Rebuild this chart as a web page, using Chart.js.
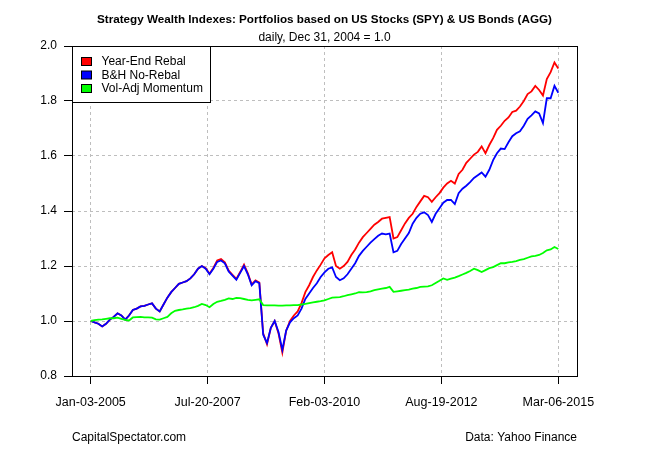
<!DOCTYPE html>
<html>
<head>
<meta charset="utf-8">
<script src="https://cdn.jsdelivr.net/npm/chart.js@4.4.1/dist/chart.umd.min.js"></script>
<style>
  body { margin: 0; background: #fff; }
  canvas { display: block; }
</style>
</head>
<body>
<canvas id="mycanvas" width="650" height="450"></canvas>
<script>
// x axis: months since Jan 2005 (0 = Jan-03-2005, 122 = Mar-06-2015)
var tickMonths = [0, 30.5, 61, 91.5, 122];
var tickLabels = ['Jan-03-2005', 'Jul-20-2007', 'Feb-03-2010', 'Aug-19-2012', 'Mar-06-2015'];
var yTicks = [0.8, 1.0, 1.2, 1.4, 1.6, 1.8, 2.0];

var seriesNames = ['Year-End Rebal', 'B&H No-Rebal', 'Vol-Adj Momentum'];
var seriesColors = ['#ff0000', '#0000ff', '#00ff00'];

// monthly readings, Jan 2005 .. Mar 2015
var yearEndRebal = [
  1.000, 0.995, 0.990, 0.980, 0.990, 1.005, 1.015, 1.028, 1.020, 1.005,
  1.020, 1.040, 1.045, 1.053, 1.055, 1.060, 1.064, 1.045, 1.035, 1.060,
  1.085, 1.105, 1.120, 1.135, 1.140, 1.145, 1.155, 1.170, 1.190, 1.200,
  1.192, 1.172, 1.193, 1.220, 1.225, 1.213, 1.183, 1.168, 1.153, 1.178,
  1.205, 1.173, 1.133, 1.148, 1.140, 0.955, 0.915, 0.975, 1.000, 0.955,
  0.885, 0.965, 1.000, 1.020, 1.035, 1.065, 1.105, 1.130, 1.160, 1.184,
  1.205, 1.228, 1.240, 1.250, 1.200, 1.190, 1.200, 1.215, 1.240, 1.260,
  1.285, 1.305, 1.320, 1.335, 1.350, 1.360, 1.372, 1.375, 1.378, 1.300,
  1.305, 1.330, 1.355, 1.375, 1.390, 1.415, 1.435, 1.455, 1.450, 1.433,
  1.450, 1.465, 1.485, 1.500, 1.510, 1.500, 1.535, 1.550, 1.575, 1.590,
  1.605, 1.615, 1.635, 1.610, 1.640, 1.665, 1.695, 1.710, 1.728, 1.740,
  1.760, 1.765, 1.780, 1.800, 1.825, 1.835, 1.855, 1.840, 1.820, 1.880,
  1.905, 1.940, 1.918
];
var bhNoRebal = [
  1.000, 0.995, 0.990, 0.980, 0.990, 1.005, 1.015, 1.028, 1.020, 1.005,
  1.020, 1.040, 1.045, 1.053, 1.055, 1.060, 1.064, 1.045, 1.035, 1.060,
  1.085, 1.105, 1.120, 1.135, 1.140, 1.145, 1.155, 1.170, 1.190, 1.200,
  1.190, 1.170, 1.190, 1.215, 1.220, 1.210, 1.180, 1.165, 1.150, 1.175,
  1.200, 1.170, 1.130, 1.145, 1.137, 0.950, 0.920, 0.975, 1.000, 0.960,
  0.895, 0.965, 0.995, 1.010, 1.020, 1.045, 1.080, 1.100, 1.120, 1.137,
  1.160, 1.177, 1.190, 1.195, 1.160, 1.148, 1.155, 1.170, 1.190, 1.210,
  1.237, 1.255, 1.270, 1.285, 1.298, 1.310, 1.318, 1.315, 1.318, 1.250,
  1.255, 1.280, 1.300, 1.320, 1.354, 1.375, 1.390, 1.395, 1.385, 1.360,
  1.390, 1.410, 1.430, 1.440, 1.440, 1.425, 1.465, 1.481, 1.492, 1.505,
  1.520, 1.530, 1.540, 1.525, 1.550, 1.585, 1.610, 1.627, 1.625, 1.650,
  1.672, 1.683, 1.690, 1.710, 1.735, 1.748, 1.762, 1.755, 1.720, 1.810,
  1.810, 1.855, 1.830
];
var volAdjMomentum = [
  1.000, 1.003, 1.005, 1.006, 1.008, 1.010, 1.010, 1.012, 1.008, 1.004,
  1.002, 1.013, 1.014, 1.015, 1.013, 1.013, 1.012, 1.006, 1.005, 1.010,
  1.015, 1.028, 1.037, 1.040, 1.042, 1.045, 1.047, 1.050, 1.055, 1.062,
  1.058, 1.050, 1.062, 1.070, 1.073, 1.077, 1.082, 1.080, 1.084, 1.083,
  1.080, 1.077, 1.075, 1.077, 1.079, 1.058, 1.057, 1.057, 1.057, 1.056,
  1.056, 1.057, 1.057, 1.058, 1.058, 1.060, 1.062, 1.065, 1.068, 1.070,
  1.072, 1.075, 1.080, 1.085, 1.086, 1.087, 1.090, 1.094, 1.097, 1.100,
  1.105, 1.104, 1.105, 1.108, 1.112, 1.115, 1.118, 1.120, 1.124, 1.106,
  1.108, 1.110, 1.112, 1.114, 1.118, 1.120, 1.124, 1.125, 1.126, 1.130,
  1.138, 1.146, 1.155, 1.150, 1.154, 1.158, 1.163, 1.169, 1.175, 1.182,
  1.190, 1.185, 1.178, 1.185, 1.192, 1.196, 1.203, 1.210, 1.210, 1.213,
  1.215, 1.218, 1.222, 1.225, 1.230, 1.235, 1.237, 1.240, 1.247, 1.257,
  1.260, 1.269, 1.262
];

var FONT = "'Liberation Sans', Arial, Helvetica, sans-serif";
Chart.defaults.font.family = FONT;
Chart.defaults.font.size = 12;
Chart.defaults.color = '#000';

function toPoints(arr) {
  return arr.map(function (v, i) { return { x: i, y: v }; });
}

var lastMonth = tickMonths[tickMonths.length - 1];
var xPad = lastMonth * 0.04;

// frame, legend, titles and credits
var decorations = {
  id: 'decorations',
  afterDraw: function (chart) {
    var c = chart.ctx, a = chart.chartArea;
    c.save();
    c.strokeStyle = '#000';
    c.lineWidth = 1;
    c.strokeRect(Math.round(a.left) + 0.5, Math.round(a.top) + 0.5,
                 Math.round(a.right - a.left), Math.round(a.bottom - a.top));

    // legend box
    var lx = Math.round(a.left) + 0.5, ly = Math.round(a.top) + 0.5;
    c.fillStyle = '#fff';
    c.fillRect(lx, ly, 138, 56);
    c.strokeRect(lx, ly, 138, 56);
    c.font = '12px ' + FONT;
    c.textBaseline = 'middle';
    c.textAlign = 'left';
    for (var i = 0; i < seriesNames.length; i++) {
      var ry = ly + 15 + i * 13.5;
      c.fillStyle = seriesColors[i];
      c.fillRect(lx + 9, ry - 4, 10, 8);
      c.strokeRect(lx + 9, ry - 4, 10, 8);
      c.fillStyle = '#000';
      c.fillText(seriesNames[i], lx + 29, ry + 0.5);
    }

    // titles
    var cx = (a.left + a.right) / 2;
    c.textAlign = 'center';
    c.font = 'bold 11.7px ' + FONT;
    c.fillText('Strategy Wealth Indexes: Portfolios based on US Stocks (SPY) & US Bonds (AGG)', cx, 20);
    c.font = '12px ' + FONT;
    c.fillText('daily, Dec 31, 2004 = 1.0', cx, 37.5);

    // credits
    c.textAlign = 'left';
    c.fillText('CapitalSpectator.com', a.left, 438);
    c.textAlign = 'right';
    c.fillText('Data: Yahoo Finance', a.right, 438);
    c.restore();
  }
};

var chartdata = {
  datasets: [
    { label: seriesNames[0], data: toPoints(yearEndRebal), borderColor: seriesColors[0], order: 2 },
    { label: seriesNames[1], data: toPoints(bhNoRebal), borderColor: seriesColors[1], order: 1 },
    { label: seriesNames[2], data: toPoints(volAdjMomentum), borderColor: seriesColors[2], order: 0 }
  ]
};

var gridOpts = {
  color: '#bebebe',
  lineWidth: 1,
  drawTicks: true,
  tickLength: 8,
  tickColor: '#000',
  tickWidth: 1
};

var ctx = document.getElementById('mycanvas');
var LineGraph = new Chart(ctx, {
  type: 'line',
  data: chartdata,
  options: {
    responsive: false,
    animation: false,
    devicePixelRatio: 1,
    layout: { padding: { left: 0, right: 73, top: 46, bottom: 0 } },
    elements: {
      line: { borderWidth: 1.8, tension: 0, fill: false },
      point: { radius: 0, hoverRadius: 0 }
    },
    plugins: {
      legend: { display: false },
      tooltip: { enabled: false }
    },
    scales: {
      x: {
        type: 'linear',
        min: -xPad,
        max: lastMonth + xPad,
        grid: gridOpts,
        border: { display: false, dash: [3, 3] },
        afterBuildTicks: function (s) {
          s.ticks = tickMonths.map(function (v) { return { value: v }; });
        },
        afterFit: function (s) { s.height = 74; },
        ticks: {
          autoSkip: false,
          maxRotation: 0,
          padding: 11,
          font: { size: 12.5 },
          callback: function (v, i) { return tickLabels[i]; }
        }
      },
      y: {
        min: yTicks[0],
        max: yTicks[yTicks.length - 1],
        grid: gridOpts,
        border: { display: false, dash: [3, 3] },
        afterBuildTicks: function (s) {
          s.ticks = yTicks.map(function (v) { return { value: v }; });
        },
        afterFit: function (s) { s.width = 72; },
        ticks: {
          padding: 7,
          callback: function (v) { return v.toFixed(1); }
        }
      }
    }
  },
  plugins: [decorations]
});
</script>
</body>
</html>
